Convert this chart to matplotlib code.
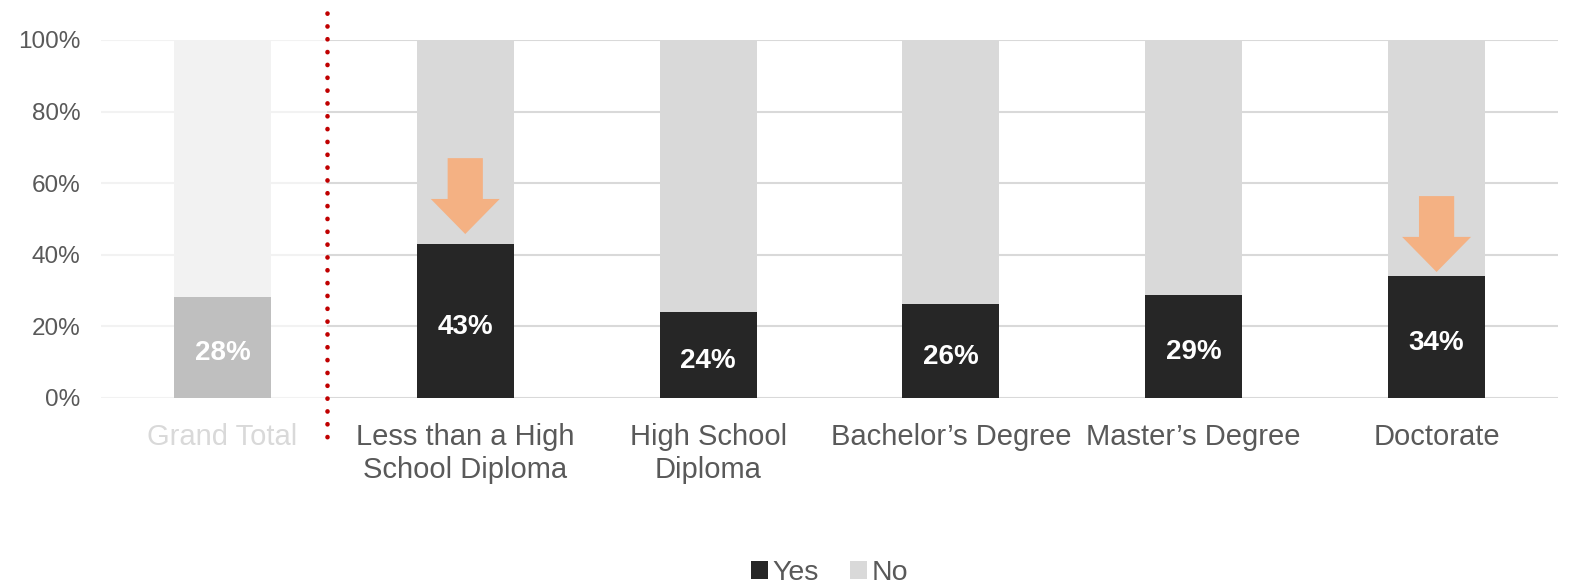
import matplotlib
matplotlib.use("Agg")
import matplotlib.pyplot as plt
from matplotlib.patches import FancyArrow
from matplotlib.transforms import blended_transform_factory

plt.rcParams['font.family'] = ['Liberation Sans', 'DejaVu Sans']

categories = ["Grand Total", "Less than a High\nSchool Diploma", "High School\nDiploma",
              "Bachelor\u2019s Degree", "Master\u2019s Degree", "Doctorate"]
yes = [28.2, 43.0, 24.0, 26.2, 28.7, 34.0]
no = [100 - v for v in yes]
labels = ["28%", "43%", "24%", "26%", "29%", "34%"]
yticks = [0, 20, 40, 60, 80, 100]
ytick_labels = ["0%", "20%", "40%", "60%", "80%", "100%"]
# arrows: (category index, top, tip)
arrows = [(1, 67.0, 45.8), (5, 56.4, 35.2)]

fig = plt.figure(figsize=(15.78, 5.88), dpi=100)
ax = fig.add_axes([101/1578, 1-398/588, 1457/1578, 358/588])

x = list(range(len(categories)))
yes_colors = ["#BFBFBF"] + ["#262626"] * (len(categories) - 1)
no_colors = ["#F2F2F2"] + ["#D9D9D9"] * (len(categories) - 1)
w = 0.4
ax.bar(x, yes, width=w, color=yes_colors, zorder=2)
ax.bar(x, no, bottom=yes, width=w, color=no_colors, zorder=2)
# legend proxies
ax.bar([0], [0], color="#262626", label="Yes")
ax.bar([0], [0], color="#D9D9D9", label="No")

ax.set_xlim(-0.5, len(categories) - 0.5)
ax.set_ylim(0, 100)

div = 0.43
for t in yticks:
    ax.hlines(t, -0.5, div, color="#F2F2F2", lw=1.5, zorder=1)
    ax.hlines(t, div, len(categories) - 0.5, color="#D9D9D9", lw=1.5, zorder=1)

for s in ax.spines.values():
    s.set_visible(False)
ax.set_yticks(yticks)
ax.set_yticklabels(ytick_labels)
ax.tick_params(axis='y', length=0, pad=15, labelsize=17.5, labelcolor="#595959")
ax.set_xticks(x)
ax.set_xticklabels(categories)
ax.tick_params(axis='x', length=0, pad=18, labelsize=21, labelcolor="#595959")
ax.get_xticklabels()[0].set_color("#D9D9D9")
for lab in ax.get_xticklabels():
    lab.set_linespacing(1.22)

for xi, v, lab in zip(x, yes, labels):
    ax.annotate(lab, (xi, v / 2), xytext=(0, -4), textcoords='offset points',
                ha='center', va='center', color='white',
                fontsize=20, fontweight='bold', zorder=4)

for (ci, top, tip) in arrows:
    head_len = 9.8
    ax.add_patch(FancyArrow(ci, top, 0, -(top - tip), width=0.145, head_width=0.284,
                            head_length=head_len, length_includes_head=True,
                            color="#F4B183", lw=0, zorder=5))

tr = blended_transform_factory(ax.transData, ax.transAxes)
ax.plot([div, div], [1.075, -0.14], transform=tr, clip_on=False, color="#C00000",
        lw=3.3, linestyle=(0, (0.05, 2.75)), dash_capstyle='round', zorder=6)

leg = ax.legend(loc='center', bbox_to_anchor=(0.5, -0.49), ncol=2, frameon=False,
                fontsize=20.5, handlelength=0.6, handleheight=0.6, handletextpad=0.15,
                columnspacing=1.1, borderpad=0.1)
for t in leg.get_texts():
    t.set_color("#595959")

fig.savefig("out.png", dpi=100)
